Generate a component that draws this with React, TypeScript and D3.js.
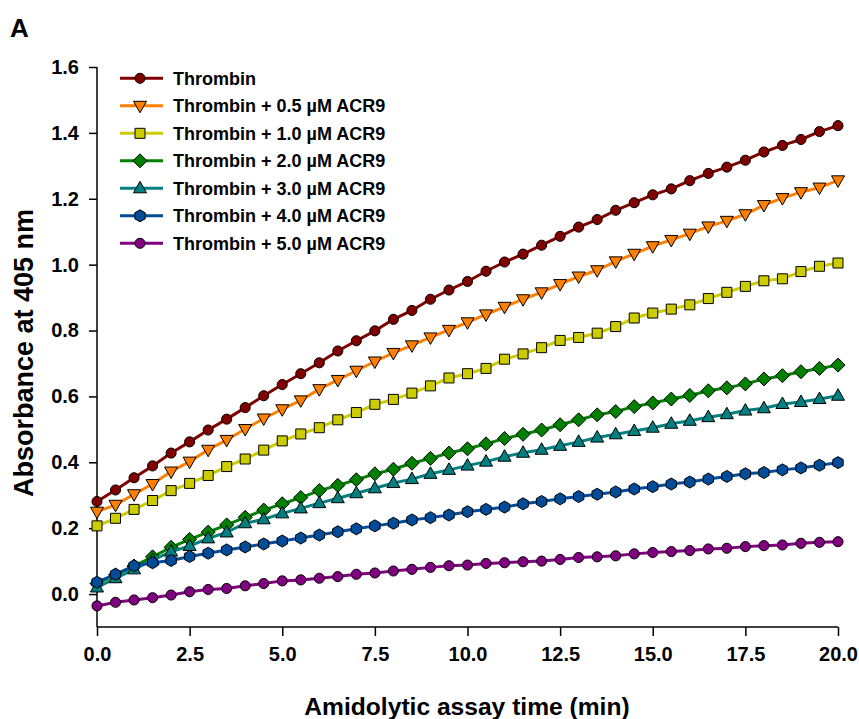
import React, { useEffect, useRef } from "react";
import * as d3 from "d3";

// time points (min)
const times = d3.range(0, 20.01, 0.5);

const thrombin = [0.281, 0.316, 0.353, 0.389, 0.428, 0.462, 0.498, 0.531, 0.566, 0.602, 0.636, 0.669, 0.702, 0.738, 0.769, 0.799, 0.834, 0.861, 0.895, 0.923, 0.949, 0.980, 1.008, 1.032, 1.059, 1.086, 1.114, 1.137, 1.165, 1.188, 1.212, 1.230, 1.255, 1.277, 1.296, 1.317, 1.342, 1.362, 1.380, 1.404, 1.422];
const acr05 = [0.250, 0.271, 0.303, 0.334, 0.372, 0.402, 0.438, 0.468, 0.501, 0.533, 0.561, 0.588, 0.622, 0.650, 0.678, 0.706, 0.732, 0.755, 0.779, 0.802, 0.825, 0.849, 0.872, 0.895, 0.916, 0.941, 0.964, 0.983, 1.010, 1.033, 1.056, 1.075, 1.094, 1.116, 1.133, 1.153, 1.181, 1.202, 1.220, 1.234, 1.256];
const acr10 = [0.207, 0.230, 0.257, 0.284, 0.314, 0.336, 0.360, 0.387, 0.410, 0.437, 0.465, 0.486, 0.505, 0.529, 0.551, 0.576, 0.591, 0.610, 0.632, 0.656, 0.669, 0.685, 0.713, 0.729, 0.748, 0.770, 0.779, 0.792, 0.812, 0.838, 0.853, 0.865, 0.878, 0.897, 0.916, 0.934, 0.951, 0.957, 0.979, 0.995, 1.005];
const acr20 = [0.032, 0.058, 0.085, 0.113, 0.142, 0.166, 0.188, 0.210, 0.233, 0.255, 0.274, 0.293, 0.314, 0.330, 0.347, 0.365, 0.379, 0.397, 0.412, 0.428, 0.441, 0.456, 0.472, 0.485, 0.498, 0.514, 0.529, 0.544, 0.554, 0.569, 0.580, 0.592, 0.603, 0.617, 0.626, 0.638, 0.653, 0.663, 0.675, 0.685, 0.695];
const acr30 = [0.020, 0.048, 0.075, 0.103, 0.129, 0.146, 0.169, 0.187, 0.215, 0.227, 0.245, 0.260, 0.276, 0.291, 0.306, 0.321, 0.337, 0.349, 0.365, 0.377, 0.390, 0.402, 0.417, 0.429, 0.438, 0.450, 0.462, 0.475, 0.485, 0.495, 0.505, 0.517, 0.526, 0.537, 0.546, 0.557, 0.564, 0.577, 0.583, 0.592, 0.602];
const acr40 = [0.036, 0.060, 0.086, 0.095, 0.102, 0.114, 0.124, 0.134, 0.143, 0.152, 0.161, 0.170, 0.179, 0.189, 0.198, 0.207, 0.215, 0.225, 0.232, 0.240, 0.250, 0.257, 0.264, 0.274, 0.281, 0.289, 0.296, 0.303, 0.310, 0.319, 0.326, 0.334, 0.340, 0.349, 0.357, 0.365, 0.369, 0.377, 0.383, 0.391, 0.399];
const acr50 = [-0.036, -0.025, -0.018, -0.011, -0.003, 0.007, 0.014, 0.017, 0.025, 0.032, 0.040, 0.043, 0.048, 0.053, 0.060, 0.064, 0.070, 0.075, 0.081, 0.086, 0.088, 0.093, 0.095, 0.098, 0.100, 0.105, 0.111, 0.113, 0.116, 0.122, 0.126, 0.129, 0.132, 0.137, 0.139, 0.144, 0.147, 0.149, 0.154, 0.157, 0.159];

const seriesNames = ["Thrombin", "Thrombin + 0.5 \u00b5M ACR9", "Thrombin + 1.0 \u00b5M ACR9", "Thrombin + 2.0 \u00b5M ACR9", "Thrombin + 3.0 \u00b5M ACR9", "Thrombin + 4.0 \u00b5M ACR9", "Thrombin + 5.0 \u00b5M ACR9"];
const seriesValues = [thrombin, acr05, acr10, acr20, acr30, acr40, acr50];
const lineColors = ["#800000", "#ff8000", "#cccc00", "#008000", "#008080", "#004c99", "#800080"];
const fillColors = ["#800000", "#ff8000", "#cccc00", "#008000", "#008080", "#004c99", "#800080"];
const markerKinds = ["circle", "triDown", "square", "diamond", "triUp", "hexagon", "circle"];

const xTicks = [0, 2.5, 5, 7.5, 10, 12.5, 15, 17.5, 20];
const yTicks = [0, 0.2, 0.4, 0.6, 0.8, 1.0, 1.2, 1.4, 1.6];

const markerPath = (kind: string) => {
  switch (kind) {
    case "triDown":
      return "M-6.5,-4.5L6.5,-4.5L0,7Z";
    case "triUp":
      return "M-6.5,4.5L6.5,4.5L0,-7Z";
    case "square":
      return "M-5,-5L5,-5L5,5L-5,5Z";
    case "diamond":
      return "M0,-7L7,0L0,7L-7,0Z";
    case "hexagon": {
      const r = 6;
      const pts = d3.range(6).map((k) => {
        const a = (-90 + 60 * k) * Math.PI / 180;
        return [r * Math.cos(a), r * Math.sin(a)];
      });
      return "M" + pts.map((p) => p.join(",")).join("L") + "Z";
    }
    default:
      return d3.symbol(d3.symbolCircle, 80)() as string;
  }
};

const Chart = () => {
  const svgRef = useRef<SVGSVGElement>(null);

  useEffect(() => {
    const svg = d3.select(svgRef.current);
    svg.selectAll("*").remove();
    const font = "'Liberation Sans', Arial, sans-serif";

    const x = d3.scaleLinear().domain([0, 20]).range([97, 838]);
    const y = d3.scaleLinear().domain([-0.1, 1.6]).range([627, 67]);

    // axes
    const xAxis = svg.append("g").attr("transform", "translate(0,627)")
      .call(d3.axisBottom(x).tickValues(xTicks).tickSize(9).tickPadding(11).tickFormat(d3.format(".1f")));
    const yAxis = svg.append("g").attr("transform", "translate(97,0)")
      .call(d3.axisLeft(y).tickValues(yTicks).tickSize(8).tickPadding(10).tickFormat(d3.format(".1f")));
    [xAxis, yAxis].forEach((g) => {
      g.select(".domain").attr("stroke", "#000").attr("stroke-width", 1.5);
      g.selectAll(".tick line").attr("stroke", "#000").attr("stroke-width", 1.5);
      g.selectAll(".tick text").attr("fill", "#000").style("font-family", font).style("font-weight", "bold").style("font-size", "20px");
    });
    // domain path without outer ticks
    xAxis.select(".domain").attr("d", "M97,0H838");
    yAxis.select(".domain").attr("d", "M0,67V627");

    // series
    const line = d3.line<number>().x((_, i) => x(times[i])).y((d) => y(d));
    seriesValues.forEach((vals, s) => {
      const g = svg.append("g");
      g.append("path").datum(vals).attr("d", line).attr("fill", "none")
        .attr("stroke", lineColors[s]).attr("stroke-width", 3);
      g.selectAll("path.m").data(vals).enter().append("path").attr("class", "m")
        .attr("d", markerPath(markerKinds[s]))
        .attr("transform", (d, i) => `translate(${x(times[i])},${y(d)})`)
        .attr("fill", fillColors[s]).attr("stroke", "#000").attr("stroke-width", 1);
    });

    // legend
    const legend = svg.append("g");
    seriesNames.forEach((name, s) => {
      const ly = 78.3 + s * 27.5;
      legend.append("line").attr("x1", 120).attr("x2", 163).attr("y1", ly).attr("y2", ly)
        .attr("stroke", lineColors[s]).attr("stroke-width", 3);
      legend.append("path").attr("d", markerPath(markerKinds[s])).attr("transform", `translate(140,${ly})`)
        .attr("fill", fillColors[s]).attr("stroke", "#000").attr("stroke-width", 1);
      legend.append("text").attr("x", 173).attr("y", ly).attr("dy", "0.36em")
        .style("font-family", font).style("font-weight", "bold").style("font-size", "18px")
        .text(name);
    });

    // titles
    svg.append("text").attr("x", 467).attr("y", 715).attr("text-anchor", "middle")
      .style("font-family", font).style("font-weight", "bold").style("font-size", "24.6px")
      .text("Amidolytic assay time (min)");
    svg.append("text").attr("transform", "rotate(-90)").attr("x", -353).attr("y", 33)
      .attr("text-anchor", "middle")
      .style("font-family", font).style("font-weight", "bold").style("font-size", "27px")
      .text("Absorbance at 405 nm");
    svg.append("text").attr("x", 10).attr("y", 37)
      .style("font-family", font).style("font-weight", "bold").style("font-size", "26px")
      .text("A");
  }, []);

  return (
    <svg ref={svgRef} width={859} height={719}
      style={{ position: "absolute", left: 0, top: 0, display: "block" }}></svg>
  );
};

export default function App() {
  return <Chart />;
}
